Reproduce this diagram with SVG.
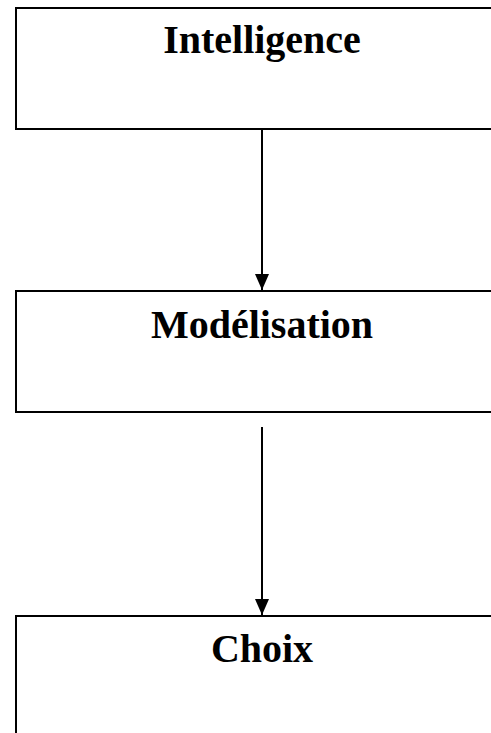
<svg xmlns="http://www.w3.org/2000/svg" width="491" height="733" viewBox="0 0 491 733">
  <style>
    .box { fill: #ffffff; stroke: #000000; stroke-width: 2; }
    .label { font-family: "Liberation Serif", "Times New Roman", serif; font-weight: bold; font-size: 40px; fill: #000000; text-anchor: middle; }
    .link { stroke: #000000; stroke-width: 2; fill: none; }
  </style>
  <defs>
    <marker id="arrow" markerUnits="userSpaceOnUse" markerWidth="16" markerHeight="16" refX="16" refY="8" orient="auto">
      <path d="M0,1 L16,8 L0,15 Z" fill="#000000"/>
    </marker>
  </defs>
  <rect x="0" y="0" width="491" height="733" fill="#ffffff"/>
  <g id="node-intelligence">
    <rect class="box" x="16" y="8" width="500" height="121"/>
    <text class="label" x="262" y="53">Intelligence</text>
  </g>
  <g id="node-modelisation">
    <rect class="box" x="16" y="291" width="500" height="121"/>
    <text class="label" x="262" y="338">Modélisation</text>
  </g>
  <g id="node-choix">
    <rect class="box" x="16" y="616" width="500" height="140"/>
    <text class="label" x="262" y="662">Choix</text>
  </g>
  <g id="connectors">
    <line class="link" x1="262" y1="130" x2="262" y2="290" marker-end="url(#arrow)"/>
    <line class="link" x1="262" y1="427" x2="262" y2="615" marker-end="url(#arrow)"/>
  </g>
</svg>
